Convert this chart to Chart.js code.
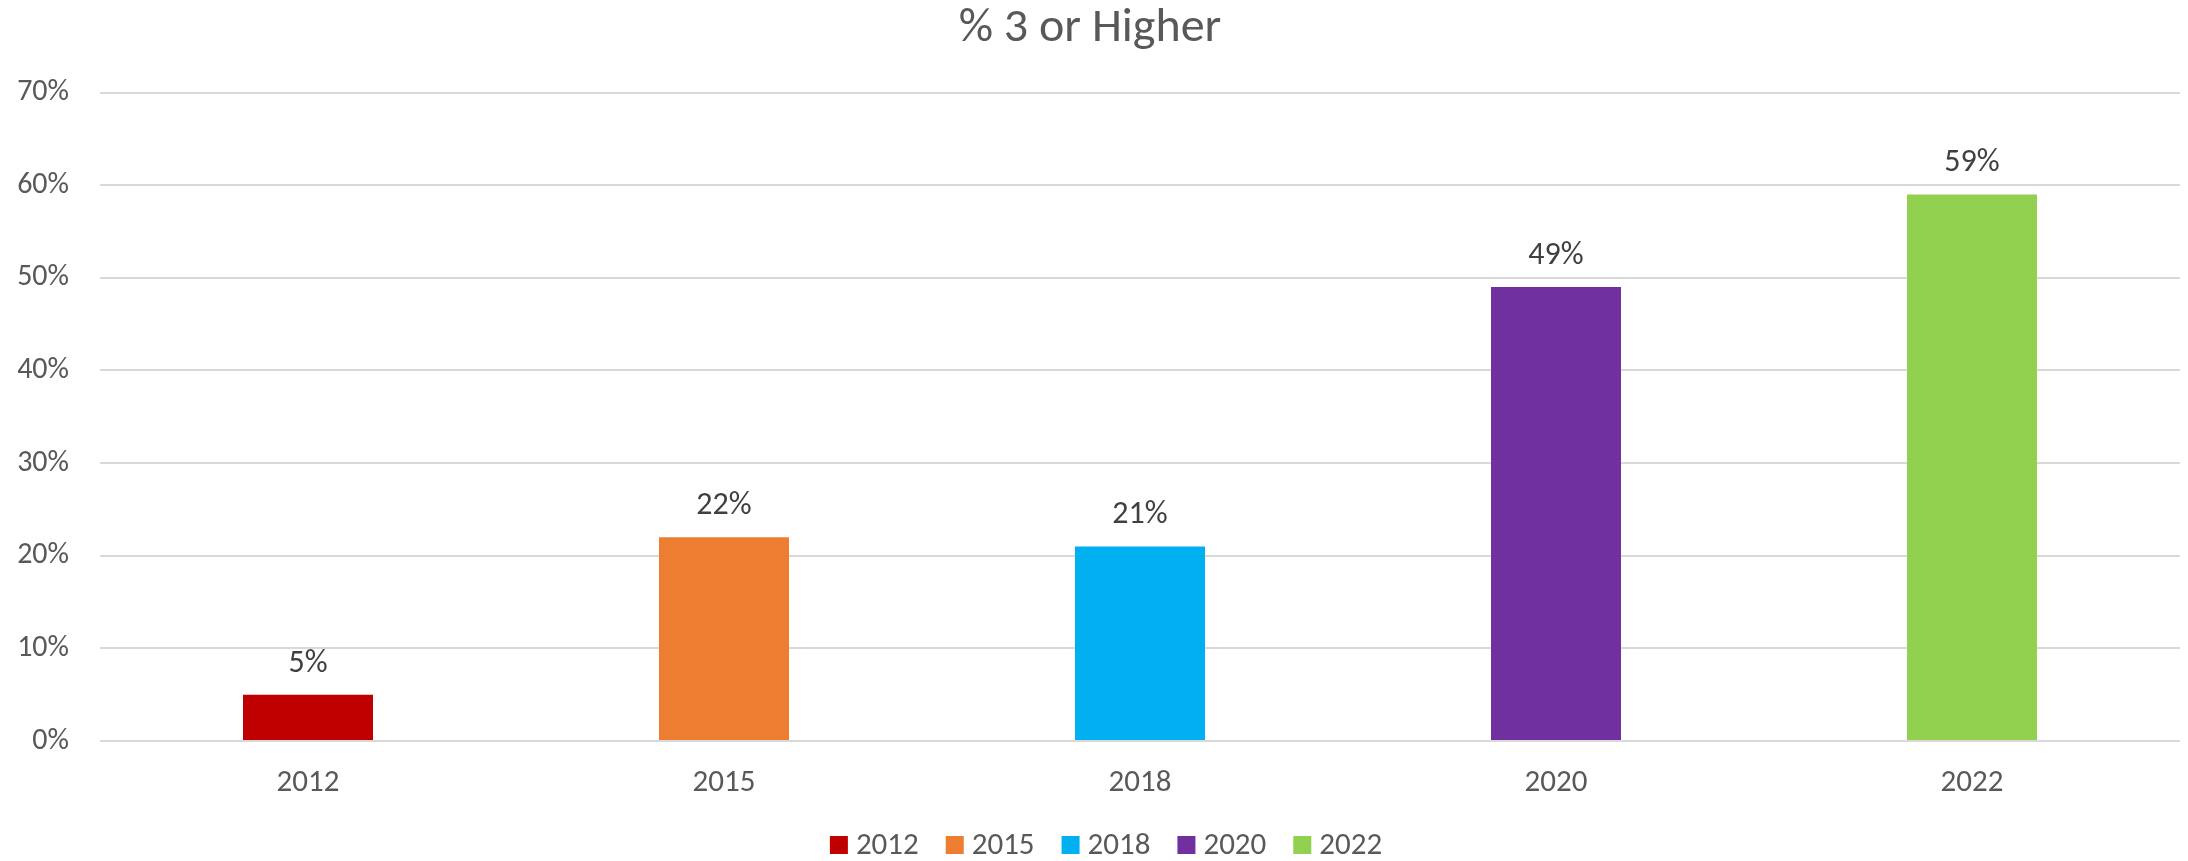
<!DOCTYPE html>
<html>
<head>
<meta charset="utf-8">
<script src="https://cdn.jsdelivr.net/npm/chart.js@4"></script>
<style>
    html, body { margin: 0; padding: 0; background: #fff; }
    #wrap { width: 2188px; height: 861px; }
</style>
</head>
<body>
<div id="wrap"><canvas id="myChart"></canvas></div>
<script>
const years = ['2012', '2015', '2018', '2020', '2022'];
const pct_values = [5, 22, 21, 49, 59];
const bar_colors = ['#C00000', '#ED7D31', '#00B0F0', '#7030A0', '#92D050'];
const y_ticks = [0, 10, 20, 30, 40, 50, 60, 70];

const FONT = 'Carlito, Calibri, Lato, sans-serif';

// "22%" labels above each bar
const barLabels = {
    id: 'barLabels',
    afterDatasetsDraw(chart) {
        const c = chart.ctx;
        const meta = chart.getDatasetMeta(0);
        c.save();
        c.font = `32px ${FONT}`;
        c.fillStyle = '#404040';
        c.textAlign = 'center';
        c.textBaseline = 'middle';
        meta.data.forEach((bar, i) => {
            c.fillText(pct_values[i] + '%', bar.x, bar.y - 31);
        });
        c.restore();
    }
};

// Excel style legend: small square, short gap, label
const yearLegend = {
    id: 'yearLegend',
    afterDraw(chart) {
        const c = chart.ctx;
        c.save();
        c.font = `31px ${FONT}`;
        c.textBaseline = 'middle';
        c.textAlign = 'left';
        const box = 18, gap = 8, spacing = 27;
        const widths = years.map(y => box + gap + c.measureText(y).width);
        const total = widths.reduce((a, b) => a + b, 0) + spacing * (years.length - 1);
        let x = chart.width / 2 + 12 - total / 2;
        const yc = 845;
        years.forEach((y, i) => {
            c.fillStyle = bar_colors[i];
            c.fillRect(x, yc - box / 2, box, box);
            c.fillStyle = '#595959';
            c.fillText(y, x + box + gap, yc + 1);
            x += widths[i] + spacing;
        });
        c.restore();
    }
};

const ctx = document.getElementById('myChart');
new Chart(ctx, {
    type: 'bar',
    data: {
        labels: years,
        datasets: [{
            label: '% 3 or Higher',
            data: pct_values,
            backgroundColor: bar_colors,
            barPercentage: 0.3125,
            categoryPercentage: 1.0
        }]
    },
    options: {
        responsive: true,
        maintainAspectRatio: false,
        animation: false,
        layout: { padding: { left: 0, right: 8, top: 0, bottom: 58 } },
        plugins: {
            title: {
                display: true,
                text: '% 3 or Higher',
                color: '#595959',
                font: { family: FONT, size: 48, weight: 'normal' },
                padding: { top: 0, bottom: 35 }
            },
            legend: { display: false },
            tooltip: { enabled: false }
        },
        scales: {
            x: {
                grid: { display: false, drawTicks: false },
                border: { display: false },
                ticks: { color: '#595959', font: { family: FONT, size: 31 }, padding: 24 },
                afterFit: axis => { axis.height = 62; }
            },
            y: {
                min: 0,
                max: 70,
                afterBuildTicks: axis => { axis.ticks = y_ticks.map(v => ({ value: v })); },
                grid: { color: '#D9D9D9', lineWidth: 2, drawTicks: false },
                border: { display: false },
                ticks: {
                    color: '#595959',
                    font: { family: FONT, size: 30 },
                    padding: 31,
                    callback: v => v + '%'
                },
                afterFit: axis => { axis.width = 100; }
            }
        }
    },
    plugins: [barLabels, yearLegend]
});
</script>
</body>
</html>
